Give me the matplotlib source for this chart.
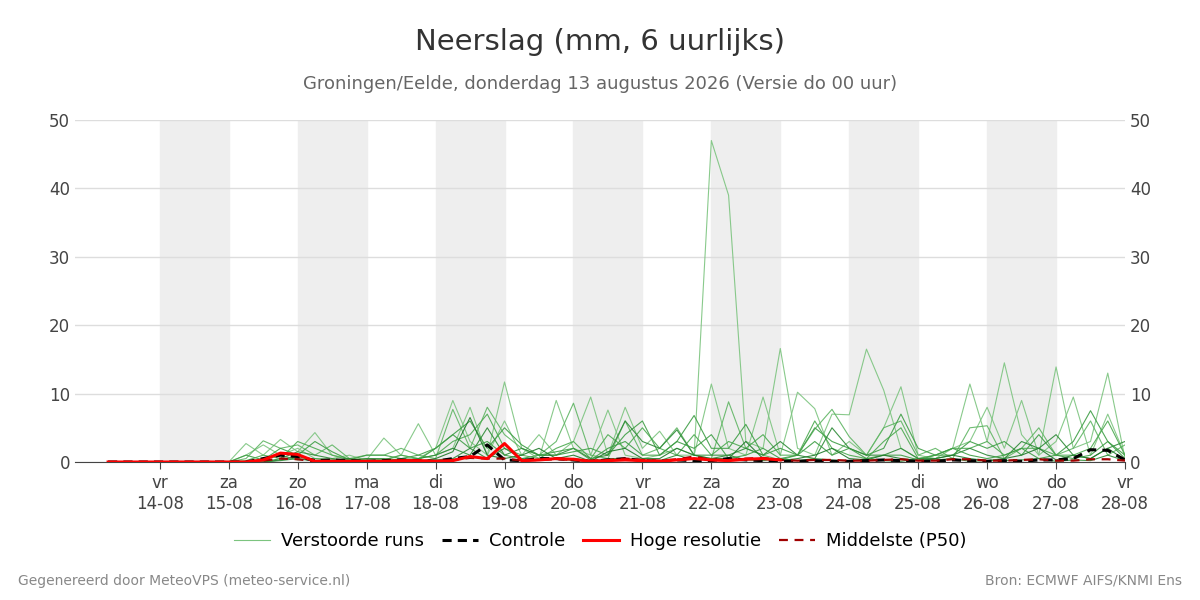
import matplotlib
matplotlib.use("Agg")
import matplotlib.pyplot as plt
import numpy as np

def p(s): return [float(v) for v in s.replace("|", " ").split()]
Z8 = "0 0 0 0 0 0 0 0 "
runs = [
 p(Z8+"1 2.5 1 2 | 0.5 0.5 1 0.2 | 0.3 1 0.5 2 | 9 3 1 11.7 | 2 0.5 9 2 | 1 7.6 1 0.5 | 1 2 1 47 | 39 3 2 16.6 | 2 1 7 6.9 | 16.5 10.5 2 0.5 | 1 2 11.4 3 | 14.5 4 1 13.9 | 2 3 13 0.5"),
 p(Z8+"2.7 1 3.3 1.5 | 4.3 1 0.5 0.3 | 3.5 1 5.6 1 | 2 8 1 6 | 1 4 1 3 | 9.5 1 8 2 | 4.5 1 1 11.4 | 2 1 9.5 1 | 10.2 7.8 1 3 | 1 5 11 1 | 0.5 2 3 8 | 2 9 1 3 | 9.5 1 7 1"),
 p(Z8+"0.5 3.1 2 2.5 | 1 2.5 0.5 1 | 1 2 1 0.5 | 7.7 2 8 4 | 2 1 3 8.6 | 1 0.5 6 1 | 2 5 1 0.5 | 8.8 2 1 0.3 | 1 4.8 7.7 3.7 | 1 5 6 1 | 2 0.5 5 5.3 | 0.5 2 5 1 | 2 6 1 2.5"),
 p(Z8+"1 0.3 2 1 | 3 1.5 0.3 1 | 1 0.5 1 2 | 4 6 2 5 | 2.5 1 1 1.5 | 2 1 4 6 | 1 3 6.8 2 | 2 5.5 1 2 | 1 5 3 2 | 1 2 7 2 | 1 1 3 2 | 3 1 4 1 | 3 7.5 3 1"),
 p(Z8+"0.2 1 0.5 3 | 2 1 0.3 0.5 | 0.3 1 0.5 1 | 3 4 7 2 | 1 0.5 2 3 | 0.5 4 2 5 | 2 1 4 1 | 3 2 4 1 | 1 6 2 1 | 0.5 3 5 0.5 | 1 2 2 3 | 1 2 2 1 | 1 2 6 1"),
 p(Z8+"0 0 0.5 1.5 | 1 0.5 0.2 0.5 | 0.5 0.3 0.5 1 | 2 1 5 1 | 2 1 1 2 | 0.5 1 6 3 | 2 4.7 1 1 | 1 2 1 3 | 1 0.5 5 2 | 1 1 2 0.5 | 0.5 1 2 1 | 0.5 3 2 4 | 1 0.5 2 3"),
 p(Z8+"0 0.5 1 0.3 | 0.5 0.2 0.1 0.3 | 0.1 0.5 0.3 2 | 4 2 3 1 | 0.5 1 1.5 2 | 0.3 2 3 1 | 1 3 2 4 | 0.5 1 2 0.5 | 1 3 1 2 | 0.5 1 1 0.3 | 1 2 1 0.5 | 1 2 0.5 1 | 0.5 1 3 0.5"),
 p(Z8+"0 0 0.3 0.8 | 0.2 0.3 0.5 0.1 | 0.2 0.3 0.1 0.5 | 1.5 6.5 1 0.5 | 1 2 0.5 1 | 0.1 1.5 2 0.5 | 0.5 2 1 0.5 | 0.5 3 0.5 0.2 | 0.5 1 2 0.5 | 0.3 1 0.5 0.2 | 0.5 1 0.5 0.2 | 0.5 1 2 0.3 | 1 0.5 2 0.3"),
 p(Z8+"0 0 0.2 0.5 | 0.1 0.1 0.3 0.1 | 0.1 0.2 0.1 0.3 | 0.5 2 0.5 2 | 0.5 0.3 0.5 0.2 | 0.1 0.5 0.5 0.3 | 0.2 1 0.3 0.5 | 1 0.3 0.2 0.5 | 0.2 0.5 0.3 0.1 | 0.5 0.2 0.1 0.5 | 0.3 0.5 0.1 0.2 | 0.2 0.3 0.5 0.1 | 0.3 0.2 1 0.2"),
]
run_colors = ["#7cc47f", "#7cc47f", "#5fb563", "#3e9e45", "#4caa50", "#2e8b37", "#3e9e45", "#1f7a2a", "#2e8b37"]
controle = p(Z8+"0 0.5 1 0.8 | 0.2 0.3 0.2 0.1 | 0.2 0.3 0.2 0.1 | 0.5 0.8 2.5 0.3 | 0.2 0.5 0.5 0.3 | 0.1 0.3 0.5 0.2 | 0.1 0.3 0.2 0.2 | 0.5 0.3 0.2 0.1 | 0.1 0.2 0.1 0.1 | 0.2 0.3 0.2 0.1 | 0.1 0.3 0.2 0.1 | 0.2 0.1 0.3 0.3 | 0.5 1.8 1.7 0.3")
hres = p(Z8+"0 0.3 1.3 1.1 | 0.1 0.1 0.1 0.1 | 0.1 0.2 0.2 0.1 | 0.2 0.8 0.5 2.7 | 0.2 0.3 0.5 0.4 | 0.1 0.2 0.3 0.2 | 0.1 0.3 0.5 0.3 | 0.2 0.4 0.5 0.3")
mediaan = p(Z8+"0 0.2 0.5 0.4 | 0.1 0.1 0.1 0.1 | 0.1 0.2 0.2 0.1 | 0.3 0.6 0.5 0.5 | 0.2 0.3 0.4 0.3 | 0.2 0.3 0.5 0.3 | 0.2 0.4 0.8 0.3 | 0.3 0.5 0.6 0.3 | 0.2 0.3 0.3 0.2 | 0.2 0.3 0.4 0.2 | 0.2 0.4 0.4 0.2 | 0.2 0.3 0.4 0.2 | 0.2 0.4 0.4 0.2")
tick_days = ["vr\n14-08","za\n15-08","zo\n16-08","ma\n17-08","di\n18-08","wo\n19-08","do\n20-08",
             "vr\n21-08","za\n22-08","zo\n23-08","ma\n24-08","di\n25-08","wo\n26-08","do\n27-08","vr\n28-08"]

t = 0.25*np.arange(1, 61)
fig = plt.figure(figsize=(12, 6), dpi=100)
ax = fig.add_axes([0.0625, 0.23, 0.875, 0.57])
for d in range(1, 15, 2):
    ax.axvspan(d, d+1, color="#eeeeee", zorder=0)
for r, c in zip(runs, run_colors):
    ax.plot(t, r, color=c, lw=0.8, alpha=0.9, zorder=2)
ax.plot(t, controle, color="black", lw=2.2, ls=(0, (3, 2)), zorder=4)
ax.plot(t[:len(hres)], hres, color="red", lw=2.2, zorder=5)
ax.plot(t, mediaan, color="#a00000", lw=1.6, ls=(0, (4, 3)), zorder=4)
ax.set_xlim(-0.23, 15)
ax.set_ylim(0, 50)
ax.set_xticks(range(1, 16))
ax.set_xticklabels(tick_days)
ax.set_yticks(range(0, 51, 10))
ax.grid(axis="y", color="#dddddd", lw=1)
ax.tick_params(axis="x", colors="#444444", labelsize=12, length=5)
ax.tick_params(axis="y", colors="#444444", labelsize=12, length=0, labelright=True)
for s in ["top", "left", "right"]:
    ax.spines[s].set_visible(False)
ax.spines["bottom"].set_color("#444444")
from matplotlib.lines import Line2D
h = [Line2D([], [], color="#7cc47f", lw=0.8), Line2D([], [], color="black", lw=2.2, ls=(0, (3, 2))),
     Line2D([], [], color="red", lw=2.2), Line2D([], [], color="#a00000", lw=1.6, ls=(0, (4, 3)))]
fig.legend(h, ["Verstoorde runs", "Controle", "Hoge resolutie", "Middelste (P50)"], loc="center",
           bbox_to_anchor=(0.5, 0.098), ncol=4, frameon=False, fontsize=13, handlelength=2.0,
           columnspacing=1.0, handletextpad=0.6)
fig.text(0.5, 0.93, "Neerslag (mm, 6 uurlijks)", ha="center", va="center", fontsize=21, color="#333333")
fig.text(0.5, 0.86, "Groningen/Eelde, donderdag 13 augustus 2026 (Versie do 00 uur)", ha="center", va="center", fontsize=13, color="#666666")
fig.text(0.015, 0.032, "Gegenereerd door MeteoVPS (meteo-service.nl)", fontsize=10, color="#888888", va="center")
fig.text(0.985, 0.032, "Bron: ECMWF AIFS/KNMI Ens", fontsize=10, color="#888888", va="center", ha="right")
fig.savefig("out.png")
